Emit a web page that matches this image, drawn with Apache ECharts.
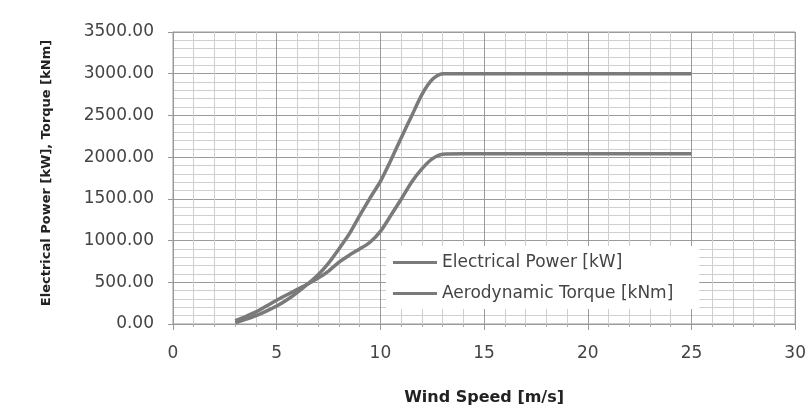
<!DOCTYPE html>
<html>
<head>
<meta charset="utf-8">
<style>
  html, body { margin: 0; padding: 0; background: #fff; }
  #chart { width: 809px; height: 411px; }
</style>
<script src="https://cdn.jsdelivr.net/npm/echarts@6/dist/echarts.min.js"></script>
</head>
<body>
<div id="chart"></div>
<script>
// Wind speed samples [m/s]
const windSpeed = [3, 3.5, 4, 4.5, 5, 5.5, 6, 6.5, 7, 7.5, 8, 8.5, 9, 9.5, 10, 10.5, 11, 11.5, 12, 12.5, 13, 14, 16, 18, 20, 22, 25];
// Electrical power [kW]
const electricalPower = [15, 55, 100, 155, 215, 290, 380, 480, 590, 730, 900, 1080, 1300, 1510, 1710, 1960, 2230, 2490, 2750, 2930, 3000, 3000, 3000, 3000, 3000, 3000, 3000];
// Aerodynamic torque [kNm]
const aeroTorque = [40, 90, 145, 215, 285, 350, 415, 480, 550, 635, 740, 825, 900, 980, 1110, 1300, 1495, 1700, 1860, 1980, 2035, 2040, 2040, 2040, 2040, 2040, 2040];

const seriesNames = ['Electrical Power [kW]', 'Aerodynamic Torque [kNm]'];
const xTitle = 'Wind Speed [m/s]';
const yTitle = 'Electrical Power [kW], Torque [kNm]';

const lineColor = '#7a7a7a';
const pair = (xs, ys) => xs.map((x, i) => [x, ys[i]]);

const chart = echarts.init(document.getElementById('chart'));
chart.setOption({
  backgroundColor: '#fff',
  animation: false,
  grid: {
    left: 173, right: 12, top: 32, bottom: 81,
    show: true, borderColor: '#999', borderWidth: 1
  },
  legend: {
    left: 386, top: 246,
    orient: 'vertical',
    backgroundColor: '#fff',
    padding: [7, 26, 6, 7],
    itemGap: 12,
    itemWidth: 44, itemHeight: 3,
    icon: 'rect',
    textStyle: { fontFamily: 'DejaVu Sans', fontSize: 17, color: '#444', lineHeight: 19 },
    data: seriesNames
  },
  xAxis: {
    type: 'value', min: 0, max: 30, interval: 5,
    name: xTitle, nameLocation: 'middle', nameGap: 66,
    nameTextStyle: { fontFamily: 'DejaVu Sans', fontWeight: 'bold', fontSize: 16, color: '#222' },
    axisLine: { show: true, lineStyle: { color: '#999' } },
    axisTick: { show: true, length: 6, lineStyle: { color: '#999' } },
    minorTick: { show: true, splitNumber: 5, length: 3, lineStyle: { color: '#aaa' } },
    axisLabel: { margin: 21, fontFamily: 'DejaVu Sans', fontSize: 17, color: '#444' },
    splitLine: { show: true, lineStyle: { color: '#9a9a9a', width: 1 } },
    minorSplitLine: { show: true, lineStyle: { color: '#cfcfcf', width: 1 } }
  },
  yAxis: {
    type: 'value', min: 0, max: 3500, interval: 500,
    name: yTitle, nameLocation: 'middle', nameGap: 120, nameRotate: 90,
    nameTextStyle: {
      fontFamily: 'DejaVu Sans', fontWeight: 'bold', fontSize: 13, color: '#222',
      padding: [0, 0, 0, 10]
    },
    axisLine: { show: true, lineStyle: { color: '#999' } },
    axisTick: { show: true, length: 5, lineStyle: { color: '#999' } },
    minorTick: { show: false, splitNumber: 5 },
    axisLabel: {
      margin: 19, fontFamily: 'DejaVu Sans', fontSize: 17, color: '#444',
      formatter: v => v.toFixed(2)
    },
    splitLine: { show: true, lineStyle: { color: '#9a9a9a', width: 1 } },
    minorSplitLine: { show: true, lineStyle: { color: '#cfcfcf', width: 1 } }
  },
  series: [
    {
      name: seriesNames[0], type: 'line', data: pair(windSpeed, electricalPower),
      showSymbol: false, smooth: 0.25,
      lineStyle: { color: lineColor, width: 3.5 }, itemStyle: { color: lineColor }
    },
    {
      name: seriesNames[1], type: 'line', data: pair(windSpeed, aeroTorque),
      showSymbol: false, smooth: 0.25,
      lineStyle: { color: lineColor, width: 3.5 }, itemStyle: { color: lineColor }
    }
  ]
});
</script>
</body>
</html>
